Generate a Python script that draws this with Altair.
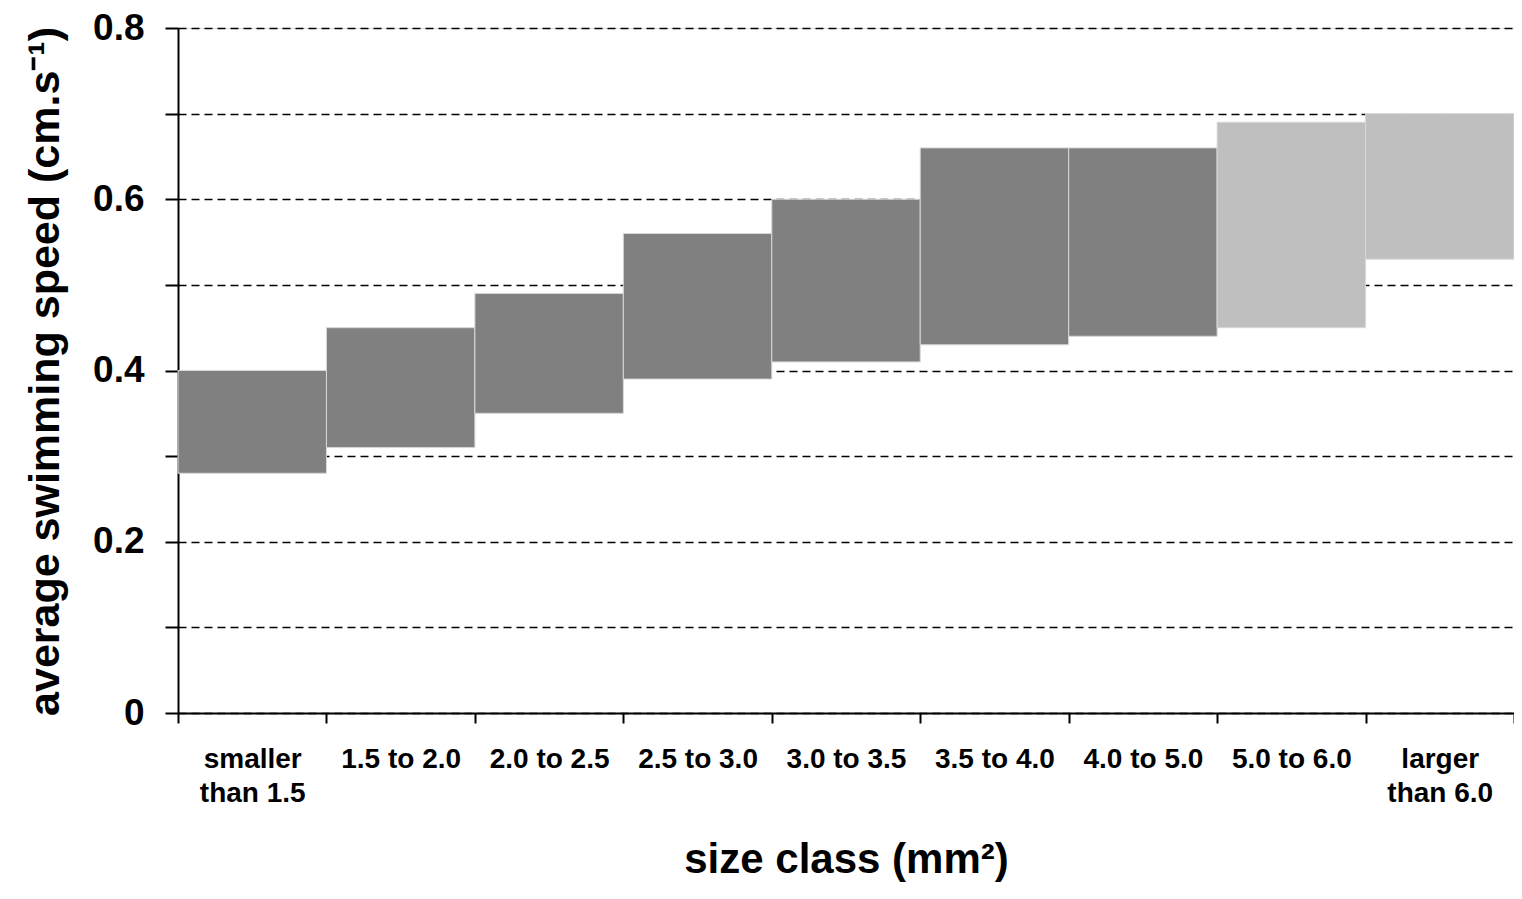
import altair as alt
import pandas as pd

categories = ["smaller|than 1.5", "1.5 to 2.0", "2.0 to 2.5", "2.5 to 3.0", "3.0 to 3.5",
              "3.5 to 4.0", "4.0 to 5.0", "5.0 to 6.0", "larger|than 6.0"]
low = [0.28, 0.31, 0.35, 0.39, 0.41, 0.43, 0.44, 0.45, 0.53]
high = [0.40, 0.45, 0.49, 0.56, 0.60, 0.66, 0.66, 0.69, 0.70]
group = ["dark"] * 7 + ["light"] * 2

y_ticks = [0, 0.1, 0.2, 0.3, 0.4, 0.5, 0.6, 0.7, 0.8]

df = pd.DataFrame({"cat": categories, "low": low, "high": high, "group": group})

FONT = "Liberation Sans"

chart = alt.Chart(df).mark_bar(stroke="#d8d8d8", strokeWidth=1).encode(
    x=alt.X("cat:N", sort=categories,
            scale=alt.Scale(paddingInner=0, paddingOuter=0),
            axis=alt.Axis(title="size class (mm²)", labelAngle=0,
                          labelExpr="split(datum.label, '|')",
                          labelFont=FONT, labelFontSize=28, labelFontWeight="bold",
                          labelColor="black", labelLineHeight=34, labelBaseline="top",
                          labelPadding=22,
                          tickBand="extent", tickSize=10, tickWidth=2, tickColor="black",
                          domainColor="black", domainWidth=2, grid=False,
                          titleFont=FONT, titleFontSize=42, titleFontWeight="bold",
                          titleColor="black", titleY=146, titleBaseline="middle")),
    y=alt.Y("low:Q", scale=alt.Scale(domain=[0, 0.8], nice=False),
            axis=alt.Axis(title="average swimming speed (cm.s⁻¹)", values=y_ticks,
                          labelExpr="round(datum.value*10) % 2 == 0 ? (datum.value == 0 ? '0' : format(datum.value, '.1f')) : ''",
                          labelFont=FONT, labelFontSize=37, labelFontWeight="bold",
                          labelColor="black", labelPadding=21,
                          tickSize=13, tickWidth=2, tickColor="black",
                          domainColor="black", domainWidth=2,
                          grid=True, gridColor="black", gridWidth=1.3, gridDash=[8, 5],
                          titleFont=FONT, titleFontSize=43, titleFontWeight="bold",
                          titleColor="black", titleX=-133, titleY=343,
                          titleAngle=-90, titleBaseline="middle", titleAlign="center")),
    y2="high:Q",
    color=alt.Color("group:N", scale=alt.Scale(domain=["dark", "light"],
                                               range=["#808080", "#BFBFBF"]), legend=None),
).properties(
    width=1336, height=685, autosize="none",
    padding={"left": 170, "top": 20, "right": 0, "bottom": 173},
).configure_view(stroke=None).configure(background="white")

chart.save("out.html", embed_options={"renderer": "svg", "actions": False})
